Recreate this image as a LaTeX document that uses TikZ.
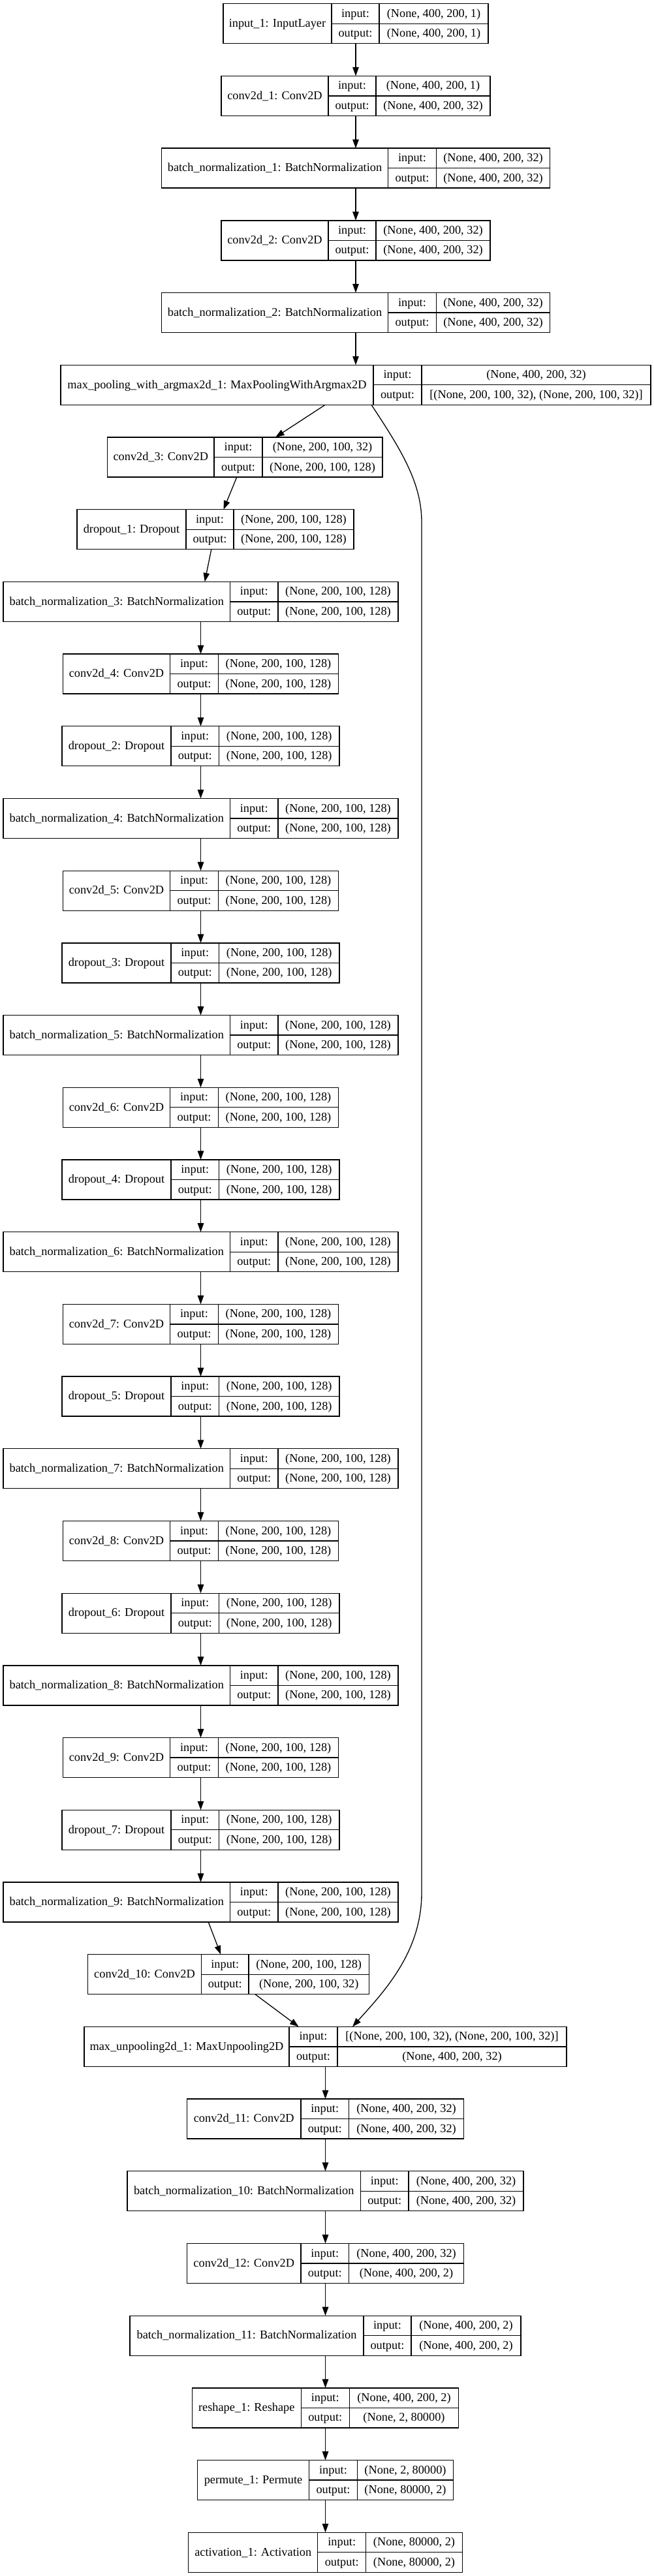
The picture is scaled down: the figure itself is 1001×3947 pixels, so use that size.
\documentclass[tikz,border=0pt]{standalone}
\usepackage{fontspec}
\setmainfont{Liberation Serif}
\usetikzlibrary{arrows.meta}
\tikzset{
  recbox/.style={draw=black, line width=1.3pt, inner sep=0pt, outer sep=0pt, minimum height=61pt},
  cell/.style={draw=black, line width=1.3pt},
  txt/.style={anchor=base, inner sep=0pt, font=\fontsize{18.3}{22}\selectfont},
  edge/.style={line width=1.3pt, -{Triangle[length=13.5pt,width=9.5pt]}},
}
% name, cx, row, w1, w2, w3, label, in, out
\newcommand\rec[9]{%
  \pgfmathsetmacro\recT{5.75+110.7*#3}%
  \pgfmathsetmacro\recW{#4+#5+#6}%
  \pgfmathsetmacro\recL{#2-\recW/2}%
  \pgfmathsetmacro\recA{\recL+#4}%
  \pgfmathsetmacro\recB{\recA+#5}%
  \pgfmathsetmacro\recR{\recB+#6}%
  \pgfmathsetmacro\recM{\recT+30.5}%
  \pgfmathsetmacro\recBot{\recT+61}%
  \node[recbox, minimum width=\recW pt] (#1) at (#2,\recM) {};
  \draw[cell] (\recA,\recT) -- (\recA,\recBot) (\recB,\recT) -- (\recB,\recBot) (\recA,\recM) -- (\recR,\recM);
  \node[txt] at ({\recL+#4/2},{\recM+5.3}) {#7};
  \node[txt] at ({\recA+#5/2},{\recT+15.25+5.3}) {input:};
  \node[txt] at ({\recA+#5/2},{\recT+45.75+5.3}) {output:};
  \node[txt] at ({\recB+#6/2},{\recT+15.25+5.3}) {#8};
  \node[txt] at ({\recB+#6/2},{\recT+45.75+5.3}) {#9};
}
\begin{document}
\begin{tikzpicture}[x=1pt,y=-1pt]
\fill[white] (0,0) rectangle (1001,3947);
\useasboundingbox (0,0) rectangle (1001,3947);
\def\sa{(None, 400, 200, 1)}
\def\sb{(None, 400, 200, 32)}
\def\sc{(None, 200, 100, 32)}
\def\sd{(None, 200, 100, 128)}
\def\se{[(None, 200, 100, 32), (None, 200, 100, 32)]}
\def\sf{(None, 400, 200, 2)}
\rec{n0}{545}{0}{166}{73}{167}{input\_1: InputLayer}{\sa}{\sa}
\rec{n1}{545}{1}{164}{73}{175}{conv2d\_1: Conv2D}{\sa}{\sb}
\rec{n2}{545}{2}{347}{74}{174}{batch\_normalization\_1: BatchNormalization}{\sb}{\sb}
\rec{n3}{545}{3}{164}{73}{175}{conv2d\_2: Conv2D}{\sb}{\sb}
\rec{n4}{545}{4}{347}{74}{174}{batch\_normalization\_2: BatchNormalization}{\sb}{\sb}
\rec{n5}{545}{5}{479}{74}{351}{max\_pooling\_with\_argmax2d\_1: MaxPoolingWithArgmax2D}{\sb}{\se}
\rec{n6}{375.3}{6}{163.5}{74}{184}{conv2d\_3: Conv2D}{\sc}{\sd}
\rec{n7}{330}{7}{167}{73}{184}{dropout\_1: Dropout}{\sd}{\sd}
\rec{n8}{307.5}{8}{347.5}{73.5}{184}{batch\_normalization\_3: BatchNormalization}{\sd}{\sd}
\rec{n9}{307.5}{9}{164.5}{73.5}{184.5}{conv2d\_4: Conv2D}{\sd}{\sd}
\rec{n10}{307.5}{10}{167}{73.5}{184.5}{dropout\_2: Dropout}{\sd}{\sd}
\rec{n11}{307.5}{11}{347.5}{73.5}{184}{batch\_normalization\_4: BatchNormalization}{\sd}{\sd}
\rec{n12}{307.5}{12}{164.5}{73.5}{184.5}{conv2d\_5: Conv2D}{\sd}{\sd}
\rec{n13}{307.5}{13}{167}{73.5}{184.5}{dropout\_3: Dropout}{\sd}{\sd}
\rec{n14}{307.5}{14}{347.5}{73.5}{184}{batch\_normalization\_5: BatchNormalization}{\sd}{\sd}
\rec{n15}{307.5}{15}{164.5}{73.5}{184.5}{conv2d\_6: Conv2D}{\sd}{\sd}
\rec{n16}{307.5}{16}{167}{73.5}{184.5}{dropout\_4: Dropout}{\sd}{\sd}
\rec{n17}{307.5}{17}{347.5}{73.5}{184}{batch\_normalization\_6: BatchNormalization}{\sd}{\sd}
\rec{n18}{307.5}{18}{164.5}{73.5}{184.5}{conv2d\_7: Conv2D}{\sd}{\sd}
\rec{n19}{307.5}{19}{167}{73.5}{184.5}{dropout\_5: Dropout}{\sd}{\sd}
\rec{n20}{307.5}{20}{347.5}{73.5}{184}{batch\_normalization\_7: BatchNormalization}{\sd}{\sd}
\rec{n21}{307.5}{21}{164.5}{73.5}{184.5}{conv2d\_8: Conv2D}{\sd}{\sd}
\rec{n22}{307.5}{22}{167}{73.5}{184.5}{dropout\_6: Dropout}{\sd}{\sd}
\rec{n23}{307.5}{23}{347.5}{73.5}{184}{batch\_normalization\_8: BatchNormalization}{\sd}{\sd}
\rec{n24}{307.5}{24}{164.5}{73.5}{184.5}{conv2d\_9: Conv2D}{\sd}{\sd}
\rec{n25}{307.5}{25}{167}{73.5}{184.5}{dropout\_7: Dropout}{\sd}{\sd}
\rec{n26}{307.5}{26}{347.5}{73.5}{184}{batch\_normalization\_9: BatchNormalization}{\sd}{\sd}
\rec{n27}{350}{27}{174}{72.5}{184.5}{conv2d\_10: Conv2D}{\sd}{\sc}
\rec{n28}{498.5}{28}{314}{74}{351}{max\_unpooling2d\_1: MaxUnpooling2D}{\se}{\sb}
\rec{n29}{498.5}{29}{174.5}{73.5}{176}{conv2d\_11: Conv2D}{\sb}{\sb}
\rec{n30}{498.5}{30}{357.5}{73.5}{176}{batch\_normalization\_10: BatchNormalization}{\sb}{\sb}
\rec{n31}{498.5}{31}{174.5}{73.5}{176}{conv2d\_12: Conv2D}{\sb}{\sf}
\rec{n32}{498.5}{32}{358}{73}{168}{batch\_normalization\_11: BatchNormalization}{\sf}{\sf}
\rec{n33}{498.5}{33}{167}{74}{167.5}{reshape\_1: Reshape}{\sf}{(None, 2, 80000)}
\rec{n34}{498.5}{34}{171}{74}{147}{permute\_1: Permute}{(None, 2, 80000)}{(None, 80000, 2)}
\rec{n35}{498.5}{35}{198}{74}{147.5}{activation\_1: Activation}{(None, 80000, 2)}{(None, 80000, 2)}
\foreach \i [evaluate=\i as \j using int(\i+1)] in {0,...,34} {
  \draw[edge] (n\i) -- (n\j);
}
\coordinate (s1) at (646,800);
\coordinate (s2) at (646,2900);
\draw[edge] ([xshift=24pt]n5.south) .. controls (615,690) and (646,740) .. (s1) -- (s2) .. controls (646,2990) and (590,3050) .. ([xshift=41.5pt]n28.north);
\end{tikzpicture}
\end{document}
